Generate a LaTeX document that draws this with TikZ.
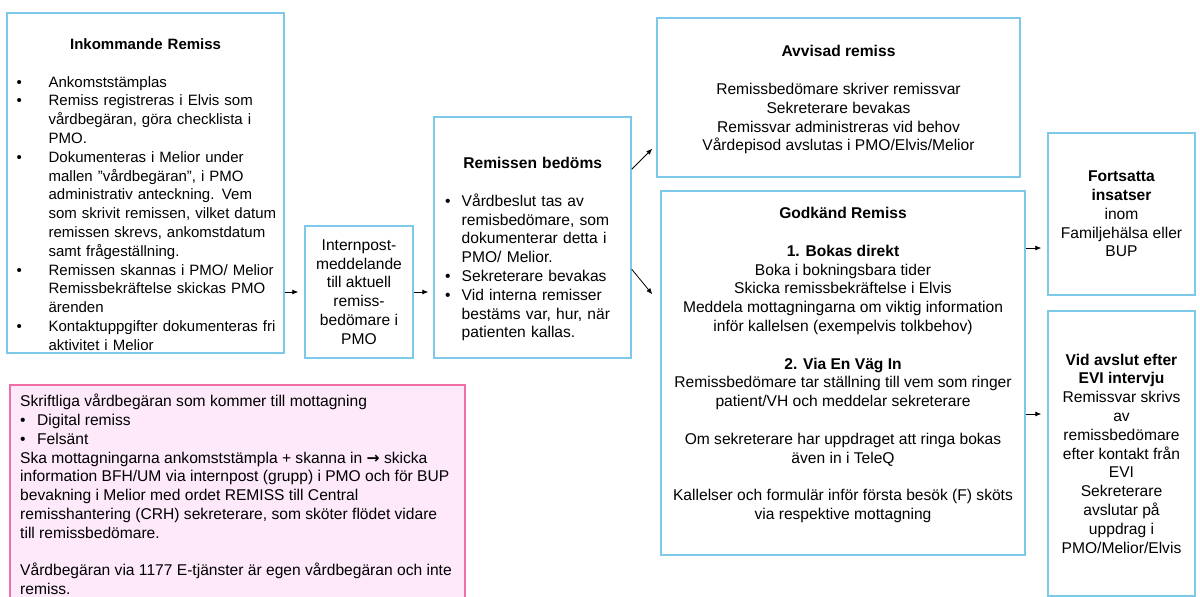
\documentclass[tikz,border=0pt]{standalone}
\usepackage{fontspec}
\setmainfont{Liberation Sans}
\newfontfamily\symfont{DejaVu Sans}
\usetikzlibrary{arrows.meta,positioning}

\definecolor{boxblue}{HTML}{7CC9EA}
\definecolor{boxpink}{HTML}{EE6FA8}
\definecolor{pinkfill}{HTML}{FDE9F9}

% bullet in a box of given width
\newcommand\blt[1]{\makebox[#1][l]{\textbullet}}

\tikzset{
  box/.style={draw=boxblue, line width=1.5pt, inner sep=0pt, align=center},
  pinkbox/.style={draw=boxpink, fill=pinkfill, line width=1.5pt, inner sep=0pt},
  txt/.style={inner sep=0pt, align=left},
  arr/.style={-{Latex[length=6pt,width=5pt]}, line width=0.8pt},
}

\begin{document}
\begin{tikzpicture}[x=1pt, y=-1pt, font=\fontsize{15.6}{18.8}\selectfont]

  % Frame
  \useasboundingbox (0,0) rectangle (1200,597);
  \clip (0,0) rectangle (1200,597);

  % Incoming referral
  \node (inko) at (145.5,183) [box, minimum width=277pt, minimum height=340pt] {};
  \node (inkotxt) at (16.4,38.5) [txt, anchor=north west, text width=320pt,
        font=\fontsize{15}{18.8}\selectfont] {%
    \makebox[258pt]{\textbf{Inkommande Remiss}}\\[18.8pt]
    \blt{32pt}Ankomststämplas\\
    \blt{32pt}Remiss registreras i Elvis som\\
    \hspace*{32pt}vårdbegäran, göra checklista i\\
    \hspace*{32pt}PMO.\\
    \blt{32pt}Dokumenteras i Melior under\\
    \hspace*{32pt}mallen ”vårdbegäran”, i PMO\\
    \hspace*{32pt}administrativ anteckning. Vem\\
    \hspace*{32pt}som skrivit remissen, vilket datum\\
    \hspace*{32pt}remissen skrevs, ankomstdatum\\
    \hspace*{32pt}samt frågeställning.\\
    \blt{32pt}Remissen skannas i PMO/ Melior\\
    \hspace*{32pt}Remissbekräftelse skickas PMO\\
    \hspace*{32pt}ärenden\\
    \blt{32pt}Kontaktuppgifter dokumenteras fri\\
    \hspace*{32pt}aktivitet i Melior};

  % Written requests
  \node (skrift) at (237.5,497.5) [pinkbox, minimum width=455pt, minimum height=225pt] {};
  \node (skrifttxt) at (20,394) [txt, anchor=north west] {%
    Skriftliga vårdbegäran som kommer till mottagning\\
    \blt{17pt}Digital remiss\\
    \blt{17pt}Felsänt\\
    Ska mottagningarna ankomststämpla + skanna in {\symfont\bfseries →} skicka\\
    information BFH/UM via internpost (grupp) i PMO och för BUP\\
    bevakning i Melior med ordet REMISS till Central\\
    remisshantering (CRH) sekreterare, som sköter flödet vidare\\
    till remissbedömare.\\[18.8pt]
    Vårdbegäran via 1177 E-tjänster är egen vårdbegäran och inte\\
    remiss.};

  % Internal post
  \node (intpost) at (359,292) [box, minimum width=108pt, minimum height=132pt]
        {Internpost-\\meddelande\\till aktuell\\remiss-\\bedömare i\\PMO};

  % Assessment
  \node (bedoms) at (532.5,237.5) [box, minimum width=197pt, minimum height=241pt] {};
  \node (bedomstxt) at (445,157.2) [txt, anchor=north west, text width=175pt] {%
    \makebox[175pt]{\textbf{Remissen bedöms}}\\[18.8pt]
    \blt{16.5pt}Vårdbeslut tas av\\
    \hspace*{16.5pt}remisbedömare, som\\
    \hspace*{16.5pt}dokumenterar detta i\\
    \hspace*{16.5pt}PMO/ Melior.\\
    \blt{16.5pt}Sekreterare bevakas\\
    \blt{16.5pt}Vid interna remisser\\
    \hspace*{16.5pt}bestäms var, hur, när\\
    \hspace*{16.5pt}patienten kallas.};

  % Rejected
  \node (avvisad) at (838.5,97.5) [box, minimum width=363pt, minimum height=159pt] {};
  \node (avvisadtxt) at (838.5,45.3) [txt, anchor=north, align=center] {%
    \textbf{Avvisad remiss}\\[18.8pt]
    Remissbedömare skriver remissvar\\
    Sekreterare bevakas\\
    Remissvar administreras vid behov\\
    Vårdepisod avslutas i PMO/Elvis/Melior};

  % Approved
  \node (godkand) at (843,373) [box, minimum width=364pt, minimum height=364pt] {};
  \node (godkandtxt) at (843,207.2) [txt, anchor=north, align=center] {%
    \textbf{Godkänd Remiss}\\[18.8pt]
    \textbf{1. Bokas direkt}\\
    Boka i bokningsbara tider\\
    Skicka remissbekräftelse i Elvis\\
    Meddela mottagningarna om viktig information\\
    inför kallelsen (exempelvis tolkbehov)\\[18.8pt]
    \textbf{2. Via En Väg In}\\
    Remissbedömare tar ställning till vem som ringer\\
    patient/VH och meddelar sekreterare\\[18.8pt]
    Om sekreterare har uppdraget att ringa bokas\\
    även in i TeleQ\\[18.8pt]
    Kallelser och formulär inför första besök (F) sköts\\
    via respektive mottagning};

  % Follow-up
  \node (fortsatta) at (1121.5,214) [box, minimum width=147pt, minimum height=162pt]
        {\textbf{Fortsatta}\\\textbf{insatser}\\inom\\Familjehälsa eller\\BUP};
  \node (vidavslut) at (1121.5,453.5) [box, minimum width=147pt, minimum height=285pt]
        {\textbf{Vid avslut efter}\\\textbf{EVI intervju}\\Remissvar skrivs\\av\\remissbedömare\\efter kontakt från\\EVI\\Sekreterare\\avslutar på\\uppdrag i\\PMO/Melior/Elvis};

  % Arrows
  \draw[arr, shorten >=6pt] (inko.east |- intpost.west) -- (intpost.west);
  \draw[arr, shorten >=5pt] (intpost.east) -- (intpost.east -| bedoms.west);
  \draw[arr] ([yshift=-53pt]bedoms.north east) -- ([xshift=-4pt,yshift=29pt]avvisad.south west);
  \draw[arr] ([yshift=-153pt]bedoms.north east) -- ([xshift=-8pt,yshift=-104pt]godkand.north west);
  \draw[arr, shorten >=6pt] ([yshift=125pt]godkand.east) coordinate (g1) -- (g1 -| fortsatta.west);
  \draw[arr, shorten >=6pt] ([yshift=-41pt]godkand.east) coordinate (g2) -- (g2 -| vidavslut.west);

\end{tikzpicture}
\end{document}
